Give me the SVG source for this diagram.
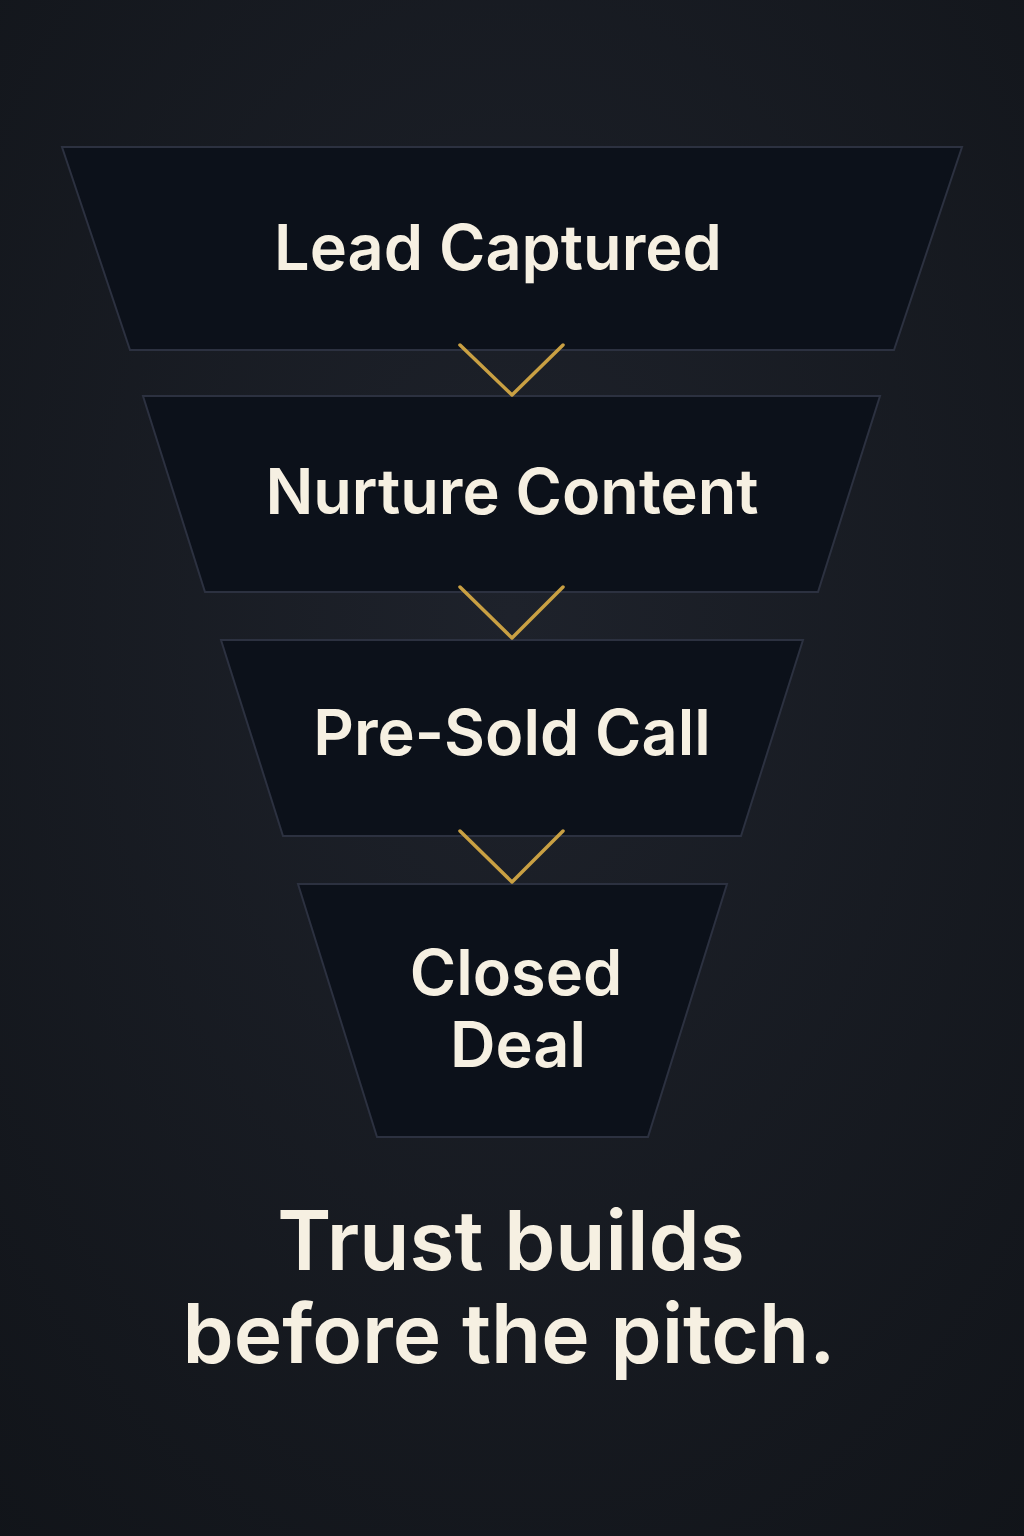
<svg xmlns="http://www.w3.org/2000/svg" width="1024" height="1536" viewBox="0 0 1024 1536">
<defs>
<radialGradient id="bg" cx="0.5" cy="0.4" r="0.8">
<stop offset="0" stop-color="#1e222b"/><stop offset="1" stop-color="#111419"/>
</radialGradient>
</defs>
<style>
.stage{fill:#0c111a;stroke:#2c3140;stroke-width:2}
.lbl{font-family:"Inter","Liberation Sans",sans-serif;font-weight:600;font-size:63px;fill:#f6f0e2;text-anchor:middle}
.tag{font-family:"Inter","Liberation Sans",sans-serif;font-weight:600;font-size:82px;fill:#f6f0e2;text-anchor:middle}
.chev{fill:none;stroke:#c9a043;stroke-width:3.5;stroke-linecap:round;stroke-linejoin:round}
</style>
<rect width="1024" height="1536" fill="url(#bg)"/>
<g id="stage1"><polygon class="stage" points="62,147 962,147 894,350 130,350"/><text class="lbl" x="498" y="270">Lead Captured</text></g>
<g id="stage2"><polygon class="stage" points="143,396 880,396 818,592 205,592"/><text class="lbl" x="512" y="514">Nurture Content</text></g>
<g id="stage3"><polygon class="stage" points="221,640 803,640 741,836 283,836"/><text class="lbl" x="512" y="755">Pre-Sold Call</text></g>
<g id="stage4"><polygon class="stage" points="298,884 727,884 648,1137 377,1137"/><text class="lbl" x="516" y="995">Closed</text><text class="lbl" x="518" y="1067">Deal</text></g>
<g id="connectors">
<polyline class="chev" points="460,345 512,395 563,345"/>
<polyline class="chev" points="460,587 512,638 563,587"/>
<polyline class="chev" points="460,831 512,882 563,831"/>
</g>
<g id="tagline"><text class="tag" x="511" y="1270">Trust builds</text><text class="tag" x="509" y="1363">before the pitch.</text></g>
</svg>
